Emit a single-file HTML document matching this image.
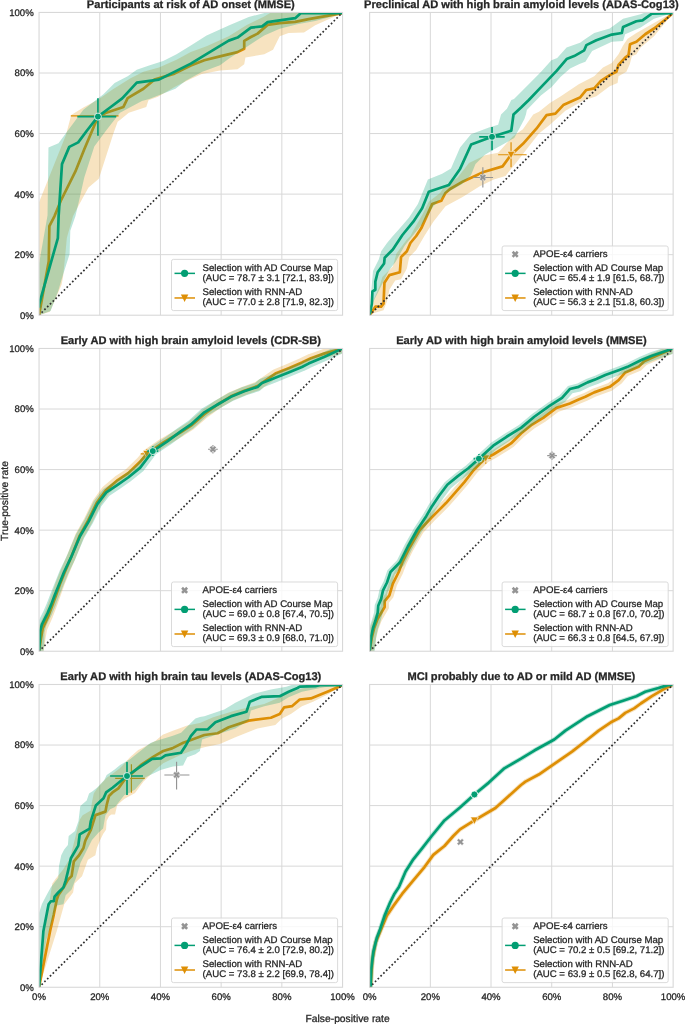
<!DOCTYPE html><html><head><meta charset="utf-8"><style>html,body{margin:0;padding:0;background:#fff;}svg{display:block;will-change:transform;}text{text-rendering:geometricPrecision;stroke:#262626;stroke-width:0.28px;}</style></head><body><svg width="685" height="1024" viewBox="0 0 685 1024">
<rect width="685" height="1024" fill="#ffffff"/>
<line x1="99.75" y1="12.45" x2="99.75" y2="315.22" stroke="#d8d8d8" stroke-width="1"/>
<line x1="39.05" y1="254.67" x2="342.55" y2="254.67" stroke="#d8d8d8" stroke-width="1"/>
<line x1="160.45" y1="12.45" x2="160.45" y2="315.22" stroke="#d8d8d8" stroke-width="1"/>
<line x1="39.05" y1="194.11" x2="342.55" y2="194.11" stroke="#d8d8d8" stroke-width="1"/>
<line x1="221.15" y1="12.45" x2="221.15" y2="315.22" stroke="#d8d8d8" stroke-width="1"/>
<line x1="39.05" y1="133.56" x2="342.55" y2="133.56" stroke="#d8d8d8" stroke-width="1"/>
<line x1="281.85" y1="12.45" x2="281.85" y2="315.22" stroke="#d8d8d8" stroke-width="1"/>
<line x1="39.05" y1="73.00" x2="342.55" y2="73.00" stroke="#d8d8d8" stroke-width="1"/>
<clipPath id="cp0"><rect x="39.05" y="12.45" width="303.50" height="302.77"/></clipPath><g clip-path="url(#cp0)">
<polygon points="39.05,315.22 39.05,202.29 65.94,135.07 71.22,115.09 83.36,107.52 97.93,99.65 112.19,89.66 130.10,78.45 143.45,71.79 158.93,67.55 176.54,59.68 190.80,52.11 206.58,46.36 228.74,36.37 246.34,25.17 264.25,16.39 270.92,12.45 342.55,12.45 342.55,13.06 315.24,25.17 304.01,32.43 288.53,33.04 279.73,36.37 273.05,49.69 264.25,54.23 245.43,57.56 244.22,64.22 237.54,69.37 220.00,70.43 201.76,74.09 190.07,79.21 175.47,86.51 157.96,96.71 148.46,100.37 146.28,106.94 128.76,112.79 119.99,120.08 117.66,121.75 113.41,133.56 98.84,178.67 88.52,187.45 79.72,203.50 73.04,215.91 66.82,238.01 65.30,254.67 63.03,277.37 61.51,284.64 49.88,311.68 39.05,315.22" fill="#de8f05" fill-opacity="0.25" stroke="none"/>
<polyline points="39.05,315.22 48.76,261.33 49.37,226.21 54.53,216.03 60.81,200.77 75.41,171.40 84.18,149.60 97.93,116.91 105.52,112.97 123.42,106.91 127.67,98.13 143.45,88.75 154.38,79.66 174.41,73.61 190.80,65.43 204.34,60.29 219.94,56.35 237.54,52.11 244.22,48.78 244.22,40.91 250.89,36.97 257.57,33.64 267.59,24.86 279.73,23.05 295.20,21.84 308.56,19.11 324.04,16.39 342.55,13.06" fill="none" stroke="#de8f05" stroke-width="2.7" stroke-linejoin="round"/>
<line x1="70.80" y1="115.79" x2="118.57" y2="115.79" stroke="#de8f05" stroke-width="1.2"/>
<polygon points="39.05,315.22 39.05,263.75 47.55,215.31 48.46,147.49 58.47,143.25 65.15,134.16 83.36,109.64 97.93,98.44 103.39,94.20 114.62,83.00 127.67,76.33 136.78,69.67 149.83,65.13 163.18,60.89 176.54,54.23 190.80,45.45 206.58,35.46 228.74,25.47 248.77,16.99 266.37,12.45 342.55,12.45 342.55,13.06 328.59,17.60 315.24,20.93 297.33,24.26 279.73,28.80 264.25,35.46 248.77,45.45 228.74,58.77 220.00,65.31 201.76,71.91 185.70,80.66 175.47,88.69 149.22,98.92 141.91,101.10 119.99,112.79 106.12,130.53 94.29,146.58 84.27,177.46 79.72,197.75 75.47,215.91 70.31,230.75 69.61,254.06 62.27,277.37 57.87,291.91 50.58,310.98 39.05,315.22" fill="#029e73" fill-opacity="0.27" stroke="none"/>
<polyline points="39.05,307.65 39.05,304.62 57.87,238.01 58.63,215.91 61.99,164.14 69.28,146.88 78.20,142.34 87.00,130.53 97.93,116.60 110.07,107.52 122.21,98.44 136.78,82.69 158.93,79.66 190.80,63.62 204.34,55.44 228.74,40.61 237.54,37.58 250.89,27.59 262.12,26.38 267.59,22.14 295.20,18.20 300.97,13.06 342.55,13.06" fill="none" stroke="#029e73" stroke-width="2.7" stroke-linejoin="round"/>
<line x1="39.05" y1="315.22" x2="342.55" y2="12.45" stroke="#303030" stroke-width="1.7" stroke-dasharray="1.7 2.23" stroke-dashoffset="0.35"/>
<line x1="77.29" y1="116.60" x2="116.14" y2="116.60" stroke="#029e73" stroke-width="1.7"/>
<line x1="97.93" y1="135.68" x2="97.93" y2="98.13" stroke="#029e73" stroke-width="1.7"/>
<circle cx="97.93" cy="116.60" r="3.5" fill="#029e73" stroke="#ffffff" stroke-width="0.8"/>
</g>
<rect x="39.05" y="12.45" width="303.50" height="302.77" fill="none" stroke="#d8d8d8" stroke-width="1.1"/>
<text x="190.80" y="7.75" text-anchor="middle" font-family='"Liberation Sans", sans-serif' font-weight="bold" font-size="11.1" fill="#262626">Participants at risk of AD onset (MMSE)</text>
<text x="33.75" y="318.67" text-anchor="end" font-family='"Liberation Sans", sans-serif' font-size="9.6" fill="#262626">0%</text>
<text x="33.75" y="258.12" text-anchor="end" font-family='"Liberation Sans", sans-serif' font-size="9.6" fill="#262626">20%</text>
<text x="33.75" y="197.56" text-anchor="end" font-family='"Liberation Sans", sans-serif' font-size="9.6" fill="#262626">40%</text>
<text x="33.75" y="137.01" text-anchor="end" font-family='"Liberation Sans", sans-serif' font-size="9.6" fill="#262626">60%</text>
<text x="33.75" y="76.45" text-anchor="end" font-family='"Liberation Sans", sans-serif' font-size="9.6" fill="#262626">80%</text>
<text x="33.75" y="15.90" text-anchor="end" font-family='"Liberation Sans", sans-serif' font-size="9.6" fill="#262626">100%</text>
<rect x="171.50" y="259.37" width="166.10" height="51.20" rx="2" fill="#ffffff" fill-opacity="0.8" stroke="#d6d6d6" stroke-width="0.9"/>
<text font-family='"Liberation Sans", sans-serif' font-size="9.63" fill="#262626"><tspan x="202.60" y="270.97">Selection with AD Course Map</tspan><tspan x="202.60" y="280.87">(AUC = 78.7 ± 3.1 [72.1, 83.9])</tspan></text>
<text font-family='"Liberation Sans", sans-serif' font-size="9.63" fill="#262626"><tspan x="202.60" y="295.17">Selection with RNN-AD</tspan><tspan x="202.60" y="305.17">(AUC = 77.0 ± 2.8 [71.9, 82.3])</tspan></text>
<line x1="174.50" y1="273.37" x2="195.00" y2="273.37" stroke="#029e73" stroke-width="1.5"/>
<circle cx="184.60" cy="273.37" r="3.6" fill="#029e73"/>
<line x1="174.50" y1="297.97" x2="195.00" y2="297.97" stroke="#de8f05" stroke-width="1.5"/>
<polygon points="180.90,294.57 188.30,294.57 184.60,301.97" fill="#de8f05"/>
<line x1="430.33" y1="12.45" x2="430.33" y2="315.22" stroke="#d8d8d8" stroke-width="1"/>
<line x1="369.63" y1="254.67" x2="673.13" y2="254.67" stroke="#d8d8d8" stroke-width="1"/>
<line x1="491.03" y1="12.45" x2="491.03" y2="315.22" stroke="#d8d8d8" stroke-width="1"/>
<line x1="369.63" y1="194.11" x2="673.13" y2="194.11" stroke="#d8d8d8" stroke-width="1"/>
<line x1="551.73" y1="12.45" x2="551.73" y2="315.22" stroke="#d8d8d8" stroke-width="1"/>
<line x1="369.63" y1="133.56" x2="673.13" y2="133.56" stroke="#d8d8d8" stroke-width="1"/>
<line x1="612.43" y1="12.45" x2="612.43" y2="315.22" stroke="#d8d8d8" stroke-width="1"/>
<line x1="369.63" y1="73.00" x2="673.13" y2="73.00" stroke="#d8d8d8" stroke-width="1"/>
<clipPath id="cp1"><rect x="369.63" y="12.45" width="303.50" height="302.77"/></clipPath><g clip-path="url(#cp1)">
<polygon points="369.63,315.22 373.00,301.41 380.01,285.06 382.35,276.89 392.85,266.38 396.49,253.45 406.87,239.50 410.39,235.99 413.33,230.44 422.14,215.00 428.81,201.68 440.04,192.90 444.59,186.24 457.64,177.46 468.97,162.93 485.02,155.36 498.16,152.63 512.76,136.59 522.90,129.32 533.22,114.48 538.98,111.76 549.91,102.98 560.84,96.32 578.74,84.21 594.22,76.33 603.02,67.55 611.82,63.01 618.50,54.23 623.05,45.45 627.61,38.79 636.41,33.04 654.01,23.05 665.24,16.39 673.13,13.06 673.13,13.06 654.01,36.37 640.66,47.57 636.41,54.23 631.85,56.35 629.73,64.22 626.39,71.79 618.50,76.33 617.59,83.00 609.70,86.33 596.34,96.32 582.99,100.86 565.39,110.85 549.91,124.78 538.98,133.56 528.82,146.58 517.13,161.41 505.48,175.95 493.79,179.58 479.80,186.24 462.20,197.14 445.50,206.22 433.37,221.66 424.38,235.99 416.22,250.00 409.21,257.09 406.87,268.59 401.04,279.19 395.18,280.40 389.36,289.79 387.02,301.29 383.53,310.16 374.18,313.10 369.63,315.22" fill="#de8f05" fill-opacity="0.25" stroke="none"/>
<polyline points="369.63,315.22 375.34,306.65 381.16,306.65 383.53,303.71 384.44,282.82 389.36,275.13 399.86,272.23 401.04,257.09 406.87,251.18 410.39,243.01 416.22,235.99 421.23,228.33 432.15,204.10 441.26,200.77 445.50,192.90 450.00,188.96 463.11,181.40 483.56,172.01 502.56,166.41 511.06,154.75 522.99,143.85 536.40,128.71 546.57,115.09 555.37,113.58 563.26,105.10 579.96,97.53 586.33,89.96 594.22,88.45 600.90,80.88 609.70,75.12 616.38,71.79 618.50,64.83 625.18,57.56 628.52,55.14 630.03,44.24 636.41,41.82 645.21,34.25 654.01,28.50 665.24,19.72 673.13,13.06" fill="none" stroke="#de8f05" stroke-width="2.7" stroke-linejoin="round"/>
<line x1="498.16" y1="154.75" x2="526.63" y2="154.75" stroke="#de8f05" stroke-width="1.2"/>
<line x1="511.06" y1="167.17" x2="511.06" y2="142.34" stroke="#de8f05" stroke-width="1.2"/>
<polygon points="507.16,151.35 514.96,151.35 511.06,158.75" fill="#de8f05" stroke="#ffffff" stroke-width="0.6"/>
<polygon points="369.63,315.22 370.66,300.08 371.27,290.88 373.00,271.02 378.86,259.21 381.16,251.34 387.02,243.01 392.85,235.99 397.86,230.44 409.08,217.43 417.89,204.10 427.90,179.58 442.17,173.83 450.97,168.38 460.07,147.49 471.00,134.16 488.91,127.50 498.16,124.78 501.05,114.48 506.93,108.73 511.36,99.95 514.00,98.89 529.21,83.72 540.86,72.04 551.40,60.35 557.22,58.02 566.57,47.51 580.02,42.85 584.20,39.70 594.22,33.04 609.70,28.50 623.05,18.81 640.66,14.27 645.21,12.45 673.13,12.45 673.13,13.06 654.01,18.81 640.66,27.59 625.18,34.25 623.05,40.91 611.82,41.82 592.10,50.90 585.42,61.80 580.02,63.86 570.09,68.52 560.74,76.70 551.40,87.23 540.86,95.41 526.87,110.00 525.93,114.48 524.41,119.03 514.25,138.10 493.76,149.60 484.96,154.75 475.49,163.99 471.06,175.10 462.20,183.97 446.66,192.84 440.01,199.50 433.37,206.16 422.26,223.90 413.33,234.99 404.50,246.10 395.61,261.63 388.96,270.50 380.10,288.27 373.42,301.60 369.63,315.22" fill="#029e73" fill-opacity="0.27" stroke="none"/>
<polyline points="369.63,315.22 371.85,303.71 372.42,291.48 375.34,289.73 375.34,281.61 377.67,272.23 384.11,263.45 384.68,257.69 392.85,249.52 402.41,234.99 413.33,221.66 422.14,208.34 428.81,191.69 448.84,185.03 460.22,168.68 471.15,144.46 492.03,136.80 511.30,130.65 513.49,114.48 521.08,107.52 528.82,100.01 538.68,89.66 556.59,70.88 566.60,59.08 574.19,56.05 584.20,50.30 586.33,45.15 596.34,40.30 611.82,34.55 621.84,33.04 623.05,26.98 636.41,21.23 642.48,20.32 651.88,13.66 673.13,13.06" fill="none" stroke="#029e73" stroke-width="2.7" stroke-linejoin="round"/>
<line x1="369.63" y1="315.22" x2="673.13" y2="12.45" stroke="#303030" stroke-width="1.7" stroke-dasharray="1.7 2.23" stroke-dashoffset="0.35"/>
<line x1="479.19" y1="136.80" x2="504.69" y2="136.80" stroke="#029e73" stroke-width="1.7"/>
<line x1="492.03" y1="150.36" x2="492.03" y2="126.90" stroke="#029e73" stroke-width="1.7"/>
<circle cx="492.03" cy="136.80" r="3.5" fill="#029e73" stroke="#ffffff" stroke-width="0.8"/>
<line x1="473.37" y1="177.46" x2="493.06" y2="177.46" stroke="#949494" stroke-width="1.15"/>
<line x1="482.84" y1="187.57" x2="482.84" y2="167.17" stroke="#949494" stroke-width="1.15"/>
<path d="M484.46,173.99 L486.30,175.83 L484.67,177.46 L486.30,179.09 L484.46,180.92 L482.84,179.30 L481.21,180.92 L479.37,179.09 L481.00,177.46 L479.37,175.83 L481.21,173.99 L482.84,175.62 Z" fill="#949494" stroke="#ffffff" stroke-width="0.5"/>
</g>
<rect x="369.63" y="12.45" width="303.50" height="302.77" fill="none" stroke="#d8d8d8" stroke-width="1.1"/>
<text x="521.38" y="7.75" text-anchor="middle" font-family='"Liberation Sans", sans-serif' font-weight="bold" font-size="11.1" fill="#262626">Preclinical AD with high brain amyloid levels (ADAS-Cog13)</text>
<rect x="502.08" y="245.97" width="166.10" height="64.60" rx="2" fill="#ffffff" fill-opacity="0.8" stroke="#d6d6d6" stroke-width="0.9"/>
<text x="533.18" y="256.87" font-family='"Liberation Sans", sans-serif' font-size="9.63" fill="#262626">APOE-ε4 carriers</text>
<path d="M516.81,250.81 L518.64,252.64 L517.02,254.27 L518.64,255.90 L516.81,257.73 L515.18,256.11 L513.55,257.73 L511.72,255.90 L513.34,254.27 L511.72,252.64 L513.55,250.81 L515.18,252.43 Z" fill="#949494"/>
<text font-family='"Liberation Sans", sans-serif' font-size="9.63" fill="#262626"><tspan x="533.18" y="270.97">Selection with AD Course Map</tspan><tspan x="533.18" y="280.87">(AUC = 65.4 ± 1.9 [61.5, 68.7])</tspan></text>
<text font-family='"Liberation Sans", sans-serif' font-size="9.63" fill="#262626"><tspan x="533.18" y="295.17">Selection with RNN-AD</tspan><tspan x="533.18" y="305.17">(AUC = 56.3 ± 2.1 [51.8, 60.3])</tspan></text>
<line x1="505.08" y1="273.37" x2="525.58" y2="273.37" stroke="#029e73" stroke-width="1.5"/>
<circle cx="515.18" cy="273.37" r="3.6" fill="#029e73"/>
<line x1="505.08" y1="297.97" x2="525.58" y2="297.97" stroke="#de8f05" stroke-width="1.5"/>
<polygon points="511.48,294.57 518.88,294.57 515.18,301.97" fill="#de8f05"/>
<line x1="99.75" y1="348.47" x2="99.75" y2="651.24" stroke="#d8d8d8" stroke-width="1"/>
<line x1="39.05" y1="590.69" x2="342.55" y2="590.69" stroke="#d8d8d8" stroke-width="1"/>
<line x1="160.45" y1="348.47" x2="160.45" y2="651.24" stroke="#d8d8d8" stroke-width="1"/>
<line x1="39.05" y1="530.13" x2="342.55" y2="530.13" stroke="#d8d8d8" stroke-width="1"/>
<line x1="221.15" y1="348.47" x2="221.15" y2="651.24" stroke="#d8d8d8" stroke-width="1"/>
<line x1="39.05" y1="469.58" x2="342.55" y2="469.58" stroke="#d8d8d8" stroke-width="1"/>
<line x1="281.85" y1="348.47" x2="281.85" y2="651.24" stroke="#d8d8d8" stroke-width="1"/>
<line x1="39.05" y1="409.02" x2="342.55" y2="409.02" stroke="#d8d8d8" stroke-width="1"/>
<clipPath id="cp2"><rect x="39.05" y="348.47" width="303.50" height="302.77"/></clipPath><g clip-path="url(#cp2)">
<polyline points="39.05,651.24 40.87,639.13 42.69,628.53 48.16,616.42 52.71,604.31 56.05,595.23 60.30,583.12 64.85,572.01 70.92,557.68 79.72,535.58 88.22,520.44 96.72,502.88 105.82,490.17 117.66,480.05 128.19,473.15 140.02,461.80 146.79,453.83 163.48,442.33 181.09,432.03 191.01,425.68 204.31,414.17 217.63,404.48 230.92,396.31 244.22,390.86 257.57,386.01 275.32,373.60 288.62,368.15 301.94,362.40 310.83,358.16 324.04,353.62 342.55,348.47" fill="none" stroke="#de8f05" stroke-opacity="0.25" stroke-width="9.0" stroke-linejoin="round" stroke-linecap="butt"/>
<polyline points="39.05,651.24 40.87,639.13 42.69,628.53 48.16,616.42 52.71,604.31 56.05,595.23 60.30,583.12 64.85,572.01 70.92,557.68 79.72,535.58 88.22,520.44 96.72,502.88 105.82,490.17 117.66,480.05 128.19,473.15 140.02,461.80 146.79,453.83 163.48,442.33 181.09,432.03 191.01,425.68 204.31,414.17 217.63,404.48 230.92,396.31 244.22,390.86 257.57,386.01 275.32,373.60 288.62,368.15 301.94,362.40 310.83,358.16 324.04,353.62 342.55,348.47" fill="none" stroke="#de8f05" stroke-width="2.7" stroke-linejoin="round"/>
<line x1="140.72" y1="453.83" x2="152.86" y2="453.83" stroke="#de8f05" stroke-width="1.2"/>
<line x1="146.79" y1="458.38" x2="146.79" y2="449.29" stroke="#de8f05" stroke-width="1.2"/>
<polygon points="142.89,450.43 150.69,450.43 146.79,457.83" fill="#de8f05" stroke="#ffffff" stroke-width="0.6"/>
<polyline points="39.05,651.24 39.75,642.10 40.08,631.56 41.84,624.60 44.18,619.87 47.67,612.88 51.19,604.61 54.68,595.23 59.35,583.66 64.03,572.01 70.92,557.68 79.99,536.25 88.76,521.32 97.50,503.82 106.28,492.41 116.81,485.41 128.19,477.51 140.02,467.91 147.70,457.77 152.80,451.05 167.73,441.12 181.09,431.13 190.98,424.47 204.31,412.35 217.63,404.48 230.92,396.82 244.22,391.25 257.57,386.92 262.00,382.99 275.32,377.84 288.62,372.39 301.94,366.94 308.56,363.61 324.04,356.95 342.55,348.47" fill="none" stroke="#029e73" stroke-opacity="0.27" stroke-width="9.0" stroke-linejoin="round" stroke-linecap="butt"/>
<polyline points="39.05,651.24 39.75,642.10 40.08,631.56 41.84,624.60 44.18,619.87 47.67,612.88 51.19,604.61 54.68,595.23 59.35,583.66 64.03,572.01 70.92,557.68 79.99,536.25 88.76,521.32 97.50,503.82 106.28,492.41 116.81,485.41 128.19,477.51 140.02,467.91 147.70,457.77 152.80,451.05 167.73,441.12 181.09,431.13 190.98,424.47 204.31,412.35 217.63,404.48 230.92,396.82 244.22,391.25 257.57,386.92 262.00,382.99 275.32,377.84 288.62,372.39 301.94,366.94 308.56,363.61 324.04,356.95 342.55,348.47" fill="none" stroke="#029e73" stroke-width="2.7" stroke-linejoin="round"/>
<line x1="39.05" y1="651.24" x2="342.55" y2="348.47" stroke="#303030" stroke-width="1.7" stroke-dasharray="1.7 2.23" stroke-dashoffset="0.35"/>
<line x1="147.34" y1="451.05" x2="158.26" y2="451.05" stroke="#029e73" stroke-width="1.7"/>
<line x1="152.80" y1="455.89" x2="152.80" y2="446.20" stroke="#029e73" stroke-width="1.7"/>
<circle cx="152.80" cy="451.05" r="3.5" fill="#029e73" stroke="#ffffff" stroke-width="0.8"/>
<line x1="208.07" y1="449.23" x2="217.78" y2="449.23" stroke="#949494" stroke-width="1.15"/>
<line x1="212.93" y1="453.47" x2="212.93" y2="444.99" stroke="#949494" stroke-width="1.15"/>
<path d="M214.55,445.77 L216.39,447.61 L214.76,449.23 L216.39,450.86 L214.55,452.70 L212.93,451.07 L211.30,452.70 L209.46,450.86 L211.09,449.23 L209.46,447.61 L211.30,445.77 L212.93,447.39 Z" fill="#949494" stroke="#ffffff" stroke-width="0.5"/>
</g>
<rect x="39.05" y="348.47" width="303.50" height="302.77" fill="none" stroke="#d8d8d8" stroke-width="1.1"/>
<text x="190.80" y="343.77" text-anchor="middle" font-family='"Liberation Sans", sans-serif' font-weight="bold" font-size="11.1" fill="#262626">Early AD with high brain amyloid levels (CDR-SB)</text>
<text x="33.75" y="654.69" text-anchor="end" font-family='"Liberation Sans", sans-serif' font-size="9.6" fill="#262626">0%</text>
<text x="33.75" y="594.14" text-anchor="end" font-family='"Liberation Sans", sans-serif' font-size="9.6" fill="#262626">20%</text>
<text x="33.75" y="533.58" text-anchor="end" font-family='"Liberation Sans", sans-serif' font-size="9.6" fill="#262626">40%</text>
<text x="33.75" y="473.03" text-anchor="end" font-family='"Liberation Sans", sans-serif' font-size="9.6" fill="#262626">60%</text>
<text x="33.75" y="412.47" text-anchor="end" font-family='"Liberation Sans", sans-serif' font-size="9.6" fill="#262626">80%</text>
<text x="33.75" y="351.92" text-anchor="end" font-family='"Liberation Sans", sans-serif' font-size="9.6" fill="#262626">100%</text>
<rect x="171.50" y="581.99" width="166.10" height="64.60" rx="2" fill="#ffffff" fill-opacity="0.8" stroke="#d6d6d6" stroke-width="0.9"/>
<text x="202.60" y="592.89" font-family='"Liberation Sans", sans-serif' font-size="9.63" fill="#262626">APOE-ε4 carriers</text>
<path d="M186.23,586.83 L188.06,588.66 L186.44,590.29 L188.06,591.92 L186.23,593.75 L184.60,592.13 L182.97,593.75 L181.14,591.92 L182.76,590.29 L181.14,588.66 L182.97,586.83 L184.60,588.45 Z" fill="#949494"/>
<text font-family='"Liberation Sans", sans-serif' font-size="9.63" fill="#262626"><tspan x="202.60" y="606.99">Selection with AD Course Map</tspan><tspan x="202.60" y="616.89">(AUC = 69.0 ± 0.8 [67.4, 70.5])</tspan></text>
<text font-family='"Liberation Sans", sans-serif' font-size="9.63" fill="#262626"><tspan x="202.60" y="631.19">Selection with RNN-AD</tspan><tspan x="202.60" y="641.19">(AUC = 69.3 ± 0.9 [68.0, 71.0])</tspan></text>
<line x1="174.50" y1="609.39" x2="195.00" y2="609.39" stroke="#029e73" stroke-width="1.5"/>
<circle cx="184.60" cy="609.39" r="3.6" fill="#029e73"/>
<line x1="174.50" y1="633.99" x2="195.00" y2="633.99" stroke="#de8f05" stroke-width="1.5"/>
<polygon points="180.90,630.59 188.30,630.59 184.60,637.99" fill="#de8f05"/>
<line x1="430.33" y1="348.47" x2="430.33" y2="651.24" stroke="#d8d8d8" stroke-width="1"/>
<line x1="369.63" y1="590.69" x2="673.13" y2="590.69" stroke="#d8d8d8" stroke-width="1"/>
<line x1="491.03" y1="348.47" x2="491.03" y2="651.24" stroke="#d8d8d8" stroke-width="1"/>
<line x1="369.63" y1="530.13" x2="673.13" y2="530.13" stroke="#d8d8d8" stroke-width="1"/>
<line x1="551.73" y1="348.47" x2="551.73" y2="651.24" stroke="#d8d8d8" stroke-width="1"/>
<line x1="369.63" y1="469.58" x2="673.13" y2="469.58" stroke="#d8d8d8" stroke-width="1"/>
<line x1="612.43" y1="348.47" x2="612.43" y2="651.24" stroke="#d8d8d8" stroke-width="1"/>
<line x1="369.63" y1="409.02" x2="673.13" y2="409.02" stroke="#d8d8d8" stroke-width="1"/>
<clipPath id="cp3"><rect x="369.63" y="348.47" width="303.50" height="302.77"/></clipPath><g clip-path="url(#cp3)">
<polygon points="365.68,650.61 367.93,636.51 370.36,626.73 374.07,616.98 380.83,605.97 380.91,599.87 385.81,593.49 389.13,582.19 395.04,570.40 398.74,560.64 405.40,547.03 416.50,527.63 428.68,514.75 436.60,506.81 443.07,500.33 452.18,489.92 461.30,479.51 470.58,467.57 477.35,460.78 483.41,455.11 491.27,451.02 508.51,440.29 518.35,430.45 529.81,421.27 540.97,414.58 554.64,404.36 568.36,399.73 577.12,395.77 583.69,393.17 592.65,388.69 607.86,383.31 615.89,377.25 622.95,369.15 636.37,363.52 641.89,358.01 652.51,353.23 671.51,344.81 674.91,352.49 655.91,360.91 646.63,364.94 641.04,370.51 627.88,375.95 621.63,383.38 611.84,390.71 595.95,396.42 587.12,400.84 580.40,403.51 571.42,407.55 558.54,411.80 545.66,421.55 534.61,428.17 523.95,436.71 513.74,446.86 495.42,458.33 488.26,461.97 483.20,466.80 476.88,473.12 467.78,484.85 458.50,495.46 449.21,506.07 442.55,512.74 434.70,520.61 423.24,532.63 412.82,550.96 406.45,563.97 402.73,573.77 396.94,585.29 393.26,597.39 388.84,602.65 388.92,608.21 381.63,620.64 378.38,629.24 376.16,638.19 373.98,651.93" fill="#de8f05" fill-opacity="0.25" stroke="none"/>
<polyline points="369.63,651.24 371.85,637.31 374.18,627.93 377.67,618.72 384.68,607.04 384.68,601.19 389.36,595.35 392.85,583.66 398.71,572.01 402.41,562.23 408.93,548.90 419.71,530.01 431.54,517.54 439.44,509.63 445.99,503.06 455.19,492.56 464.38,482.05 473.58,470.21 480.13,463.64 485.72,458.38 493.25,454.50 511.00,443.42 521.02,433.43 532.09,424.56 543.20,417.90 556.49,407.90 569.82,403.45 578.68,399.46 585.33,396.82 594.22,392.37 609.76,386.83 618.62,380.17 625.30,372.39 638.59,366.85 644.15,361.31 654.13,356.89 673.13,348.47" fill="none" stroke="#de8f05" stroke-width="2.7" stroke-linejoin="round"/>
<line x1="480.41" y1="458.38" x2="491.03" y2="458.38" stroke="#de8f05" stroke-width="1.2"/>
<line x1="485.72" y1="463.83" x2="485.72" y2="452.93" stroke="#de8f05" stroke-width="1.2"/>
<polygon points="481.82,454.98 489.62,454.98 485.72,462.38" fill="#de8f05" stroke="#ffffff" stroke-width="0.6"/>
<polygon points="366.05,650.86 367.68,635.65 369.53,627.10 371.90,619.99 374.13,612.23 374.75,605.00 377.73,597.79 379.53,589.49 383.69,581.13 387.43,570.14 397.04,560.14 404.69,544.80 413.99,528.13 423.20,514.31 428.48,505.10 436.50,493.11 444.70,482.19 455.61,473.28 466.04,465.47 476.47,456.04 491.03,442.82 504.63,433.73 518.91,424.96 532.11,413.93 547.83,402.71 559.70,395.18 567.94,385.97 577.43,383.45 586.13,379.08 595.06,375.72 603.94,371.72 617.37,366.80 626.08,363.55 639.33,356.94 650.63,352.36 671.96,345.06 674.75,353.20 653.63,360.42 642.86,364.78 629.51,371.43 620.36,374.87 607.19,379.68 598.34,383.67 589.57,386.96 580.42,391.52 572.42,393.31 565.31,401.71 552.65,409.84 537.37,420.73 523.94,431.95 509.27,440.97 496.32,449.60 482.25,462.41 471.51,472.11 460.91,480.06 450.90,488.15 443.52,498.08 435.79,509.64 430.51,518.84 421.33,532.62 412.29,548.82 404.06,565.12 394.79,574.60 391.64,584.42 387.64,592.35 385.93,600.35 383.11,607.04 382.59,613.78 380.11,622.53 377.82,629.37 376.18,637.02 374.60,651.77" fill="#029e73" fill-opacity="0.27" stroke="none"/>
<polyline points="369.63,651.24 371.24,636.22 373.00,628.05 375.34,621.05 377.67,612.88 378.25,605.85 381.16,598.86 382.92,590.69 387.02,582.51 390.51,572.01 399.98,562.23 407.87,546.48 417.07,530.01 426.26,516.20 431.54,507.00 439.44,495.19 447.30,484.69 457.83,476.12 468.33,468.25 478.89,458.71 493.25,445.66 506.57,436.76 521.02,427.89 534.31,416.77 549.85,405.69 562.05,397.91 569.82,389.04 578.68,386.83 587.57,382.38 596.44,379.05 605.30,375.05 618.62,370.18 627.51,366.85 640.81,360.22 651.88,355.74 673.13,348.47" fill="none" stroke="#029e73" stroke-width="2.7" stroke-linejoin="round"/>
<line x1="369.63" y1="651.24" x2="673.13" y2="348.47" stroke="#303030" stroke-width="1.7" stroke-dasharray="1.7 2.23" stroke-dashoffset="0.35"/>
<line x1="473.61" y1="458.71" x2="484.17" y2="458.71" stroke="#029e73" stroke-width="1.7"/>
<line x1="478.89" y1="463.37" x2="478.89" y2="454.05" stroke="#029e73" stroke-width="1.7"/>
<circle cx="478.89" cy="458.71" r="3.5" fill="#029e73" stroke="#ffffff" stroke-width="0.8"/>
<line x1="547.21" y1="455.62" x2="556.92" y2="455.62" stroke="#949494" stroke-width="1.15"/>
<line x1="552.06" y1="459.86" x2="552.06" y2="451.38" stroke="#949494" stroke-width="1.15"/>
<path d="M553.69,452.16 L555.53,453.99 L553.90,455.62 L555.53,457.25 L553.69,459.09 L552.06,457.46 L550.44,459.09 L548.60,457.25 L550.23,455.62 L548.60,453.99 L550.44,452.16 L552.06,453.78 Z" fill="#949494" stroke="#ffffff" stroke-width="0.5"/>
</g>
<rect x="369.63" y="348.47" width="303.50" height="302.77" fill="none" stroke="#d8d8d8" stroke-width="1.1"/>
<text x="521.38" y="343.77" text-anchor="middle" font-family='"Liberation Sans", sans-serif' font-weight="bold" font-size="11.1" fill="#262626">Early AD with high brain amyloid levels (MMSE)</text>
<rect x="502.08" y="581.99" width="166.10" height="64.60" rx="2" fill="#ffffff" fill-opacity="0.8" stroke="#d6d6d6" stroke-width="0.9"/>
<text x="533.18" y="592.89" font-family='"Liberation Sans", sans-serif' font-size="9.63" fill="#262626">APOE-ε4 carriers</text>
<path d="M516.81,586.83 L518.64,588.66 L517.02,590.29 L518.64,591.92 L516.81,593.75 L515.18,592.13 L513.55,593.75 L511.72,591.92 L513.34,590.29 L511.72,588.66 L513.55,586.83 L515.18,588.45 Z" fill="#949494"/>
<text font-family='"Liberation Sans", sans-serif' font-size="9.63" fill="#262626"><tspan x="533.18" y="606.99">Selection with AD Course Map</tspan><tspan x="533.18" y="616.89">(AUC = 68.7 ± 0.8 [67.0, 70.2])</tspan></text>
<text font-family='"Liberation Sans", sans-serif' font-size="9.63" fill="#262626"><tspan x="533.18" y="631.19">Selection with RNN-AD</tspan><tspan x="533.18" y="641.19">(AUC = 66.3 ± 0.8 [64.5, 67.9])</tspan></text>
<line x1="505.08" y1="609.39" x2="525.58" y2="609.39" stroke="#029e73" stroke-width="1.5"/>
<circle cx="515.18" cy="609.39" r="3.6" fill="#029e73"/>
<line x1="505.08" y1="633.99" x2="525.58" y2="633.99" stroke="#de8f05" stroke-width="1.5"/>
<polygon points="511.48,630.59 518.88,630.59 515.18,637.99" fill="#de8f05"/>
<line x1="99.75" y1="684.49" x2="99.75" y2="987.26" stroke="#d8d8d8" stroke-width="1"/>
<line x1="39.05" y1="926.71" x2="342.55" y2="926.71" stroke="#d8d8d8" stroke-width="1"/>
<line x1="160.45" y1="684.49" x2="160.45" y2="987.26" stroke="#d8d8d8" stroke-width="1"/>
<line x1="39.05" y1="866.15" x2="342.55" y2="866.15" stroke="#d8d8d8" stroke-width="1"/>
<line x1="221.15" y1="684.49" x2="221.15" y2="987.26" stroke="#d8d8d8" stroke-width="1"/>
<line x1="39.05" y1="805.60" x2="342.55" y2="805.60" stroke="#d8d8d8" stroke-width="1"/>
<line x1="281.85" y1="684.49" x2="281.85" y2="987.26" stroke="#d8d8d8" stroke-width="1"/>
<line x1="39.05" y1="745.04" x2="342.55" y2="745.04" stroke="#d8d8d8" stroke-width="1"/>
<clipPath id="cp4"><rect x="39.05" y="684.49" width="303.50" height="302.77"/></clipPath><g clip-path="url(#cp4)">
<polygon points="39.05,987.26 44.82,930.94 52.31,883.41 55.29,879.17 63.33,869.18 70.01,858.28 75.01,838.60 79.69,819.83 82.63,815.14 90.83,810.44 91.98,802.27 93.74,793.49 97.26,788.19 100.84,784.28 106.67,777.83 114.32,772.60 119.54,768.51 123.03,765.00 130.01,757.22 138.17,750.07 142.27,748.04 155.53,740.87 162.70,734.75 172.89,730.66 179.05,728.60 187.25,725.55 199.91,723.00 213.20,717.28 235.38,710.62 264.25,703.96 279.76,697.30 288.62,692.88 301.88,688.43 315.27,685.70 342.55,685.10 342.55,685.10 328.56,693.88 313.05,701.75 301.94,706.17 290.83,713.95 281.97,718.40 275.32,725.06 257.57,728.39 235.38,737.26 219.84,743.89 204.31,747.22 190.98,751.10 181.00,754.73 163.18,763.21 154.38,770.78 143.30,781.68 135.02,793.03 124.21,798.94 117.20,804.99 115.02,814.56 111.31,814.56 108.98,816.32 106.64,821.04 106.03,829.82 103.12,833.88 100.17,839.96 96.87,847.99 95.38,855.25 87.94,859.79 82.03,876.14 74.59,883.41 73.10,892.49 64.21,904.30 56.77,930.94 39.05,987.26" fill="#de8f05" fill-opacity="0.25" stroke="none"/>
<polyline points="39.05,987.26 50.10,930.94 53.80,914.60 56.77,899.76 58.26,895.22 64.21,886.44 67.88,879.78 71.62,876.14 73.86,861.31 79.05,855.25 83.48,847.99 84.97,841.93 85.55,840.11 90.83,829.82 95.50,815.14 105.46,811.62 106.67,804.99 109.01,795.94 112.53,792.46 118.35,788.37 124.21,780.20 127.06,777.74 141.06,764.97 154.38,756.10 163.24,751.01 172.13,748.34 183.24,742.77 190.98,740.02 204.31,735.02 217.63,733.24 228.74,727.24 248.68,720.61 270.86,717.73 279.76,713.95 284.19,707.29 291.96,706.17 299.73,699.51 310.80,698.42 328.56,691.15 342.55,685.10" fill="none" stroke="#de8f05" stroke-width="2.7" stroke-linejoin="round"/>
<line x1="115.17" y1="778.29" x2="144.76" y2="778.29" stroke="#de8f05" stroke-width="1.2"/>
<line x1="131.41" y1="792.79" x2="131.41" y2="764.21" stroke="#de8f05" stroke-width="1.2"/>
<polygon points="39.05,987.26 39.05,913.08 41.93,904.00 46.33,895.52 50.86,887.35 58.26,877.66 59.02,865.85 61.24,855.25 64.21,849.50 67.88,844.96 68.67,836.00 75.01,830.94 78.50,821.04 80.27,806.35 82.03,804.60 86.70,800.51 89.07,793.46 92.56,791.13 97.26,787.61 104.27,779.98 106.67,774.93 114.32,769.66 120.11,765.00 130.01,759.27 150.43,742.92 156.57,740.87 172.89,735.78 181.09,732.69 189.28,724.52 195.41,718.40 199.91,716.89 204.31,716.16 224.28,709.50 235.38,702.84 253.14,694.00 270.86,689.55 286.40,686.67 293.08,684.49 342.55,684.49 342.55,685.10 324.04,687.21 301.88,691.76 288.62,697.30 279.76,702.84 264.25,706.17 250.89,710.62 248.68,720.61 235.38,728.39 215.41,735.05 202.09,739.47 199.91,751.10 195.41,754.16 187.22,757.22 183.12,765.39 172.89,766.42 160.66,769.99 145.58,777.14 135.02,789.52 130.04,792.46 124.21,795.36 115.02,806.93 110.13,809.29 105.46,815.14 103.12,828.61 98.41,832.70 91.98,839.96 86.46,851.01 80.54,862.82 76.08,877.66 71.62,889.47 65.67,895.22 63.45,904.30 56.77,905.51 50.86,925.19 46.33,940.03 39.05,987.26" fill="#029e73" fill-opacity="0.27" stroke="none"/>
<polyline points="39.05,987.26 43.42,930.94 48.61,904.30 50.86,901.27 53.80,901.27 54.56,896.73 58.26,892.49 63.45,887.35 65.67,880.68 67.88,871.60 70.89,858.28 78.29,845.56 79.69,834.45 89.64,828.61 90.83,821.04 95.80,805.60 103.54,798.33 106.09,792.46 112.53,787.76 119.54,781.98 127.00,776.02 141.06,766.09 152.16,758.97 161.03,758.31 165.46,755.43 181.00,752.76 185.43,746.10 190.98,735.96 196.57,729.48 207.64,729.48 215.41,722.15 230.95,716.16 246.46,711.74 249.80,701.75 262.00,696.87 279.76,696.21 288.62,691.76 297.51,688.00 299.73,686.67 315.27,686.22 319.70,685.10 342.55,685.10" fill="none" stroke="#029e73" stroke-width="2.7" stroke-linejoin="round"/>
<line x1="39.05" y1="987.26" x2="342.55" y2="684.49" stroke="#303030" stroke-width="1.7" stroke-dasharray="1.7 2.23" stroke-dashoffset="0.35"/>
<line x1="110.13" y1="776.02" x2="142.97" y2="776.02" stroke="#029e73" stroke-width="1.7"/>
<line x1="127.00" y1="795.09" x2="127.00" y2="761.91" stroke="#029e73" stroke-width="1.7"/>
<circle cx="127.00" cy="776.02" r="3.5" fill="#029e73" stroke="#ffffff" stroke-width="0.8"/>
<line x1="164.37" y1="774.96" x2="189.43" y2="774.96" stroke="#949494" stroke-width="1.15"/>
<line x1="176.57" y1="789.40" x2="176.57" y2="761.70" stroke="#949494" stroke-width="1.15"/>
<path d="M178.19,771.49 L180.03,773.33 L178.40,774.96 L180.03,776.58 L178.19,778.42 L176.57,776.80 L174.94,778.42 L173.10,776.58 L174.73,774.96 L173.10,773.33 L174.94,771.49 L176.57,773.12 Z" fill="#949494" stroke="#ffffff" stroke-width="0.5"/>
</g>
<rect x="39.05" y="684.49" width="303.50" height="302.77" fill="none" stroke="#d8d8d8" stroke-width="1.1"/>
<text x="190.80" y="679.79" text-anchor="middle" font-family='"Liberation Sans", sans-serif' font-weight="bold" font-size="11.1" fill="#262626">Early AD with high brain tau levels (ADAS-Cog13)</text>
<text x="33.75" y="990.71" text-anchor="end" font-family='"Liberation Sans", sans-serif' font-size="9.6" fill="#262626">0%</text>
<text x="33.75" y="930.16" text-anchor="end" font-family='"Liberation Sans", sans-serif' font-size="9.6" fill="#262626">20%</text>
<text x="33.75" y="869.60" text-anchor="end" font-family='"Liberation Sans", sans-serif' font-size="9.6" fill="#262626">40%</text>
<text x="33.75" y="809.05" text-anchor="end" font-family='"Liberation Sans", sans-serif' font-size="9.6" fill="#262626">60%</text>
<text x="33.75" y="748.49" text-anchor="end" font-family='"Liberation Sans", sans-serif' font-size="9.6" fill="#262626">80%</text>
<text x="33.75" y="687.94" text-anchor="end" font-family='"Liberation Sans", sans-serif' font-size="9.6" fill="#262626">100%</text>
<text x="39.05" y="1000.06" text-anchor="middle" font-family='"Liberation Sans", sans-serif' font-size="9.6" fill="#262626">0%</text>
<text x="99.75" y="1000.06" text-anchor="middle" font-family='"Liberation Sans", sans-serif' font-size="9.6" fill="#262626">20%</text>
<text x="160.45" y="1000.06" text-anchor="middle" font-family='"Liberation Sans", sans-serif' font-size="9.6" fill="#262626">40%</text>
<text x="221.15" y="1000.06" text-anchor="middle" font-family='"Liberation Sans", sans-serif' font-size="9.6" fill="#262626">60%</text>
<text x="281.85" y="1000.06" text-anchor="middle" font-family='"Liberation Sans", sans-serif' font-size="9.6" fill="#262626">80%</text>
<text x="342.55" y="1000.06" text-anchor="middle" font-family='"Liberation Sans", sans-serif' font-size="9.6" fill="#262626">100%</text>
<rect x="171.50" y="918.01" width="166.10" height="64.60" rx="2" fill="#ffffff" fill-opacity="0.8" stroke="#d6d6d6" stroke-width="0.9"/>
<text x="202.60" y="928.91" font-family='"Liberation Sans", sans-serif' font-size="9.63" fill="#262626">APOE-ε4 carriers</text>
<path d="M186.23,922.85 L188.06,924.68 L186.44,926.31 L188.06,927.94 L186.23,929.77 L184.60,928.15 L182.97,929.77 L181.14,927.94 L182.76,926.31 L181.14,924.68 L182.97,922.85 L184.60,924.47 Z" fill="#949494"/>
<text font-family='"Liberation Sans", sans-serif' font-size="9.63" fill="#262626"><tspan x="202.60" y="943.01">Selection with AD Course Map</tspan><tspan x="202.60" y="952.91">(AUC = 76.4 ± 2.0 [72.9, 80.2])</tspan></text>
<text font-family='"Liberation Sans", sans-serif' font-size="9.63" fill="#262626"><tspan x="202.60" y="967.21">Selection with RNN-AD</tspan><tspan x="202.60" y="977.21">(AUC = 73.8 ± 2.2 [69.9, 78.4])</tspan></text>
<line x1="174.50" y1="945.41" x2="195.00" y2="945.41" stroke="#029e73" stroke-width="1.5"/>
<circle cx="184.60" cy="945.41" r="3.6" fill="#029e73"/>
<line x1="174.50" y1="970.01" x2="195.00" y2="970.01" stroke="#de8f05" stroke-width="1.5"/>
<polygon points="180.90,966.61 188.30,966.61 184.60,974.01" fill="#de8f05"/>
<line x1="430.33" y1="684.49" x2="430.33" y2="987.26" stroke="#d8d8d8" stroke-width="1"/>
<line x1="369.63" y1="926.71" x2="673.13" y2="926.71" stroke="#d8d8d8" stroke-width="1"/>
<line x1="491.03" y1="684.49" x2="491.03" y2="987.26" stroke="#d8d8d8" stroke-width="1"/>
<line x1="369.63" y1="866.15" x2="673.13" y2="866.15" stroke="#d8d8d8" stroke-width="1"/>
<line x1="551.73" y1="684.49" x2="551.73" y2="987.26" stroke="#d8d8d8" stroke-width="1"/>
<line x1="369.63" y1="805.60" x2="673.13" y2="805.60" stroke="#d8d8d8" stroke-width="1"/>
<line x1="612.43" y1="684.49" x2="612.43" y2="987.26" stroke="#d8d8d8" stroke-width="1"/>
<line x1="369.63" y1="745.04" x2="673.13" y2="745.04" stroke="#d8d8d8" stroke-width="1"/>
<clipPath id="cp5"><rect x="369.63" y="684.49" width="303.50" height="302.77"/></clipPath><g clip-path="url(#cp5)">
<polyline points="369.63,987.26 370.54,987.26 372.33,959.71 375.64,942.51 381.16,929.19 386.75,915.87 393.39,905.91 402.29,893.70 413.33,880.38 424.47,867.06 433.33,854.86 444.44,845.99 453.30,836.00 459.98,829.34 474.40,820.46 495.46,808.02 508.78,796.03 521.02,785.01 525.45,781.62 538.74,774.53 554.28,763.88 572.03,751.67 587.57,739.47 598.65,730.60 611.97,721.73 618.62,718.40 625.30,712.86 634.16,708.41 640.81,703.50 651.92,696.21 662.99,689.55 673.13,684.49" fill="none" stroke="#de8f05" stroke-opacity="0.25" stroke-width="4.6" stroke-linejoin="round" stroke-linecap="butt"/>
<polyline points="369.63,987.26 370.54,987.26 372.33,959.71 375.64,942.51 381.16,929.19 386.75,915.87 393.39,905.91 402.29,893.70 413.33,880.38 424.47,867.06 433.33,854.86 444.44,845.99 453.30,836.00 459.98,829.34 474.40,820.46 495.46,808.02 508.78,796.03 521.02,785.01 525.45,781.62 538.74,774.53 554.28,763.88 572.03,751.67 587.57,739.47 598.65,730.60 611.97,721.73 618.62,718.40 625.30,712.86 634.16,708.41 640.81,703.50 651.92,696.21 662.99,689.55 673.13,684.49" fill="none" stroke="#de8f05" stroke-width="2.7" stroke-linejoin="round"/>
<polygon points="470.50,817.06 478.30,817.06 474.40,824.46" fill="#de8f05" stroke="#ffffff" stroke-width="0.6"/>
<polyline points="369.63,987.26 370.54,987.26 371.21,969.12 373.42,951.38 376.76,938.06 380.10,929.19 384.50,915.87 390.09,902.58 394.52,893.70 398.95,887.04 405.59,871.51 413.33,859.28 422.26,848.20 431.70,836.00 444.44,820.46 459.98,807.41 474.40,794.49 488.81,782.59 504.35,768.30 521.02,758.67 534.31,750.55 554.28,739.47 565.39,730.60 587.57,716.19 609.76,705.08 623.08,700.66 636.41,696.21 645.24,691.76 658.56,688.00 667.42,685.10 673.13,684.49" fill="none" stroke="#029e73" stroke-opacity="0.27" stroke-width="4.6" stroke-linejoin="round" stroke-linecap="butt"/>
<polyline points="369.63,987.26 370.54,987.26 371.21,969.12 373.42,951.38 376.76,938.06 380.10,929.19 384.50,915.87 390.09,902.58 394.52,893.70 398.95,887.04 405.59,871.51 413.33,859.28 422.26,848.20 431.70,836.00 444.44,820.46 459.98,807.41 474.40,794.49 488.81,782.59 504.35,768.30 521.02,758.67 534.31,750.55 554.28,739.47 565.39,730.60 587.57,716.19 609.76,705.08 623.08,700.66 636.41,696.21 645.24,691.76 658.56,688.00 667.42,685.10 673.13,684.49" fill="none" stroke="#029e73" stroke-width="2.7" stroke-linejoin="round"/>
<line x1="369.63" y1="987.26" x2="673.13" y2="684.49" stroke="#303030" stroke-width="1.7" stroke-dasharray="1.7 2.23" stroke-dashoffset="0.35"/>
<circle cx="474.40" cy="794.49" r="3.5" fill="#029e73" stroke="#ffffff" stroke-width="0.8"/>
<path d="M462.03,838.53 L463.87,840.36 L462.25,841.99 L463.87,843.62 L462.03,845.46 L460.41,843.83 L458.78,845.46 L456.94,843.62 L458.57,841.99 L456.94,840.36 L458.78,838.53 L460.41,840.15 Z" fill="#949494" stroke="#ffffff" stroke-width="0.5"/>
</g>
<rect x="369.63" y="684.49" width="303.50" height="302.77" fill="none" stroke="#d8d8d8" stroke-width="1.1"/>
<text x="521.38" y="679.79" text-anchor="middle" font-family='"Liberation Sans", sans-serif' font-weight="bold" font-size="11.1" fill="#262626">MCI probably due to AD or mild AD (MMSE)</text>
<text x="369.63" y="1000.06" text-anchor="middle" font-family='"Liberation Sans", sans-serif' font-size="9.6" fill="#262626">0%</text>
<text x="430.33" y="1000.06" text-anchor="middle" font-family='"Liberation Sans", sans-serif' font-size="9.6" fill="#262626">20%</text>
<text x="491.03" y="1000.06" text-anchor="middle" font-family='"Liberation Sans", sans-serif' font-size="9.6" fill="#262626">40%</text>
<text x="551.73" y="1000.06" text-anchor="middle" font-family='"Liberation Sans", sans-serif' font-size="9.6" fill="#262626">60%</text>
<text x="612.43" y="1000.06" text-anchor="middle" font-family='"Liberation Sans", sans-serif' font-size="9.6" fill="#262626">80%</text>
<text x="673.13" y="1000.06" text-anchor="middle" font-family='"Liberation Sans", sans-serif' font-size="9.6" fill="#262626">100%</text>
<rect x="502.08" y="918.01" width="166.10" height="64.60" rx="2" fill="#ffffff" fill-opacity="0.8" stroke="#d6d6d6" stroke-width="0.9"/>
<text x="533.18" y="928.91" font-family='"Liberation Sans", sans-serif' font-size="9.63" fill="#262626">APOE-ε4 carriers</text>
<path d="M516.81,922.85 L518.64,924.68 L517.02,926.31 L518.64,927.94 L516.81,929.77 L515.18,928.15 L513.55,929.77 L511.72,927.94 L513.34,926.31 L511.72,924.68 L513.55,922.85 L515.18,924.47 Z" fill="#949494"/>
<text font-family='"Liberation Sans", sans-serif' font-size="9.63" fill="#262626"><tspan x="533.18" y="943.01">Selection with AD Course Map</tspan><tspan x="533.18" y="952.91">(AUC = 70.2 ± 0.5 [69.2, 71.2])</tspan></text>
<text font-family='"Liberation Sans", sans-serif' font-size="9.63" fill="#262626"><tspan x="533.18" y="967.21">Selection with RNN-AD</tspan><tspan x="533.18" y="977.21">(AUC = 63.9 ± 0.5 [62.8, 64.7])</tspan></text>
<line x1="505.08" y1="945.41" x2="525.58" y2="945.41" stroke="#029e73" stroke-width="1.5"/>
<circle cx="515.18" cy="945.41" r="3.6" fill="#029e73"/>
<line x1="505.08" y1="970.01" x2="525.58" y2="970.01" stroke="#de8f05" stroke-width="1.5"/>
<polygon points="511.48,966.61 518.88,966.61 515.18,974.01" fill="#de8f05"/>
<text x="347.6" y="1021.5" text-anchor="middle" font-family='"Liberation Sans", sans-serif' font-size="10.3" fill="#262626">False-positive rate</text>
<text transform="translate(7.6,501) rotate(-90)" text-anchor="middle" font-family='"Liberation Sans", sans-serif' font-size="10.3" fill="#262626">True-positive rate</text>
</svg></body></html>
